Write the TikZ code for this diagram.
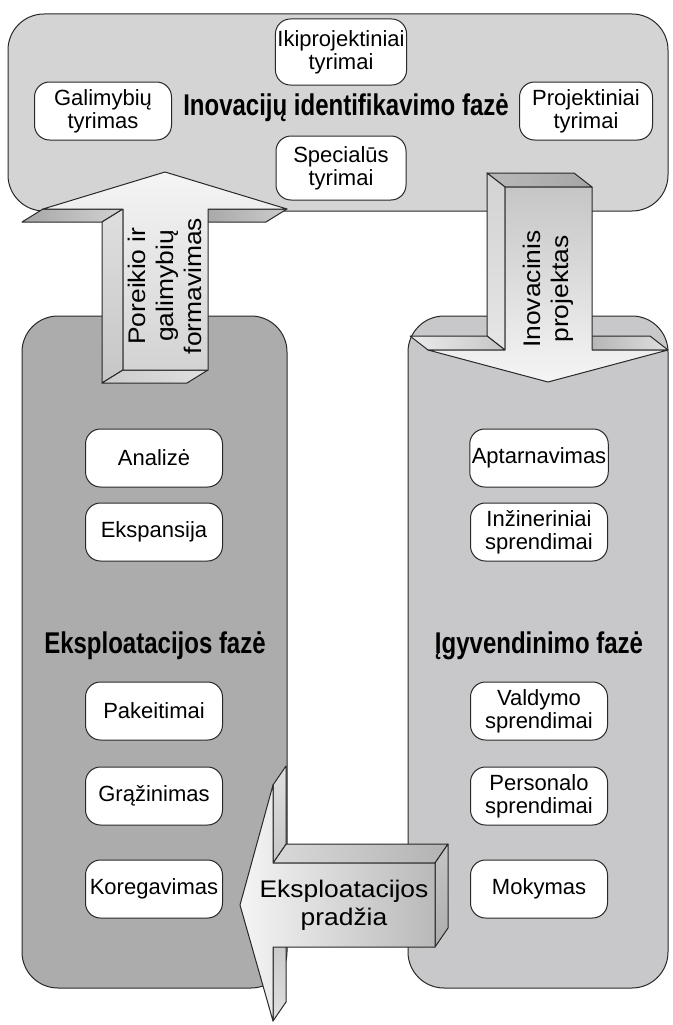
\documentclass[tikz,border=0pt]{standalone}
\usepackage{fontspec}
\setmainfont{Liberation Sans}
\newfontfamily\narrowfont[FakeStretch=0.8]{Liberation Sans}
\newfontfamily\widefont[FakeStretch=1.1]{Liberation Sans}
\definecolor{toppanel}{RGB}{212,212,212}
\definecolor{leftpanel}{RGB}{172,172,172}
\definecolor{rightpanel}{RGB}{200,200,202}
\definecolor{outline}{RGB}{40,40,40}
\begin{document}
\begin{tikzpicture}[x=1pt,y=-1pt,
  panel/.style={draw=outline, line width=1pt, rounded corners=36pt},
  item/.style={draw=outline, line width=1pt, fill=white, rounded corners=15pt,
    minimum width=137pt, minimum height=58pt, align=center, inner sep=2pt,
    font=\fontsize{22}{23}\selectfont},
  phase/.style={font=\narrowfont\fontsize{30}{32}\selectfont\bfseries},
  face/.style={draw=outline, line width=1pt, line join=round},
  arrowtext/.style={align=center, font=\widefont\fontsize{24}{28}\selectfont},
]
\useasboundingbox (0,0) rectangle (672,1025);

% phase panels
\draw[panel, fill=toppanel] (8,14) rectangle (668,211);
\draw[panel, fill=leftpanel] (22,316) rectangle (287,988);
\draw[panel, fill=rightpanel] (408,316) rectangle (668,988);

% identification phase
\node[phase] (ident) at (346,108) {Inovacijų identifikavimo fazė};
\node[item, minimum width=130pt, minimum height=66pt] (iki) at (341,52) {Ikiprojektiniai\\tyrimai};
\node[item] (galim) at (103,111) {Galimybių\\tyrimas};
\node[item, minimum width=133pt] (proj) at (586,111) {Projektiniai\\tyrimai};
\node[item, minimum width=130pt, minimum height=64pt] (spec) at (341,168) {Specialūs\\tyrimai};

% exploitation phase
\node[phase] (eksp) at (155,646) {Eksploatacijos fazė};
\node[item] (anal) at (154,458) {Analizė};
\node[item] (expa) at (154,532) {Ekspansija};
\node[item] (pake) at (154,711) {Pakeitimai};
\node[item] (graz) at (154,796) {Grąžinimas};
\node[item] (kore) at (154,889) {Koregavimas};

% implementation phase
\node[phase] (igyv) at (539,646) {Įgyvendinimo fazė};
\node[item] (aptar) at (539,458) {Aptarnavimas};
\node[item] (inz) at (539,532) {Inžineriniai\\sprendimai};
\node[item] (vald) at (539,711) {Valdymo\\sprendimai};
\node[item] (pers) at (539,796) {Personalo\\sprendimai};
\node[item] (moky) at (539,889) {Mokymas};

% block arrow up: need and possibility forming
\shadedraw[face, left color=gray!70, right color=gray!35] (43,209) -- (123,209) -- (102,222) -- (22,222) -- cycle;
\shadedraw[face, left color=gray!75, right color=gray!40] (208,209) -- (287,209) -- (266,222) -- (187,222) -- cycle;
\shadedraw[face, top color=gray!25, bottom color=gray!45] (123,209) -- (123,370) -- (102,383) -- (102,222) -- cycle;
\shadedraw[face, left color=gray!40, right color=gray!25] (123,370) -- (208,370) -- (187,383) -- (102,383) -- cycle;
\shadedraw[face, top color=gray!8, bottom color=gray!35]
  (123,370) -- (123,209) -- (43,209) -- (165,172) -- (287,209) -- (208,209) -- (208,370) -- cycle;
\node[arrowtext, rotate=90] (needs) at (165,286) {Poreikio ir\\galimybių\\formavimas};

% block arrow down: innovation project
\shadedraw[face, left color=gray!55, right color=gray!70] (505,187) -- (592,187) -- (574,173) -- (487,173) -- cycle;
\shadedraw[face, top color=gray!35, bottom color=gray!20] (505,187) -- (505,350) -- (487,336) -- (487,173) -- cycle;
\shadedraw[face, left color=gray!15, right color=gray!45] (428,350) -- (505,350) -- (487,336) -- (410,336) -- cycle;
\shadedraw[face, left color=gray!65, right color=gray!25] (592,350) -- (668,350) -- (650,336) -- (574,336) -- cycle;
\shadedraw[face, top color=gray!45, bottom color=gray!8]
  (505,187) -- (592,187) -- (592,350) -- (668,350) -- (548,382) -- (428,350) -- (505,350) -- cycle;
\node[arrowtext, rotate=90] (project) at (548,289) {Inovacinis\\projektas};

% block arrow left: start of exploitation
\shadedraw[face, left color=gray!30, right color=gray!60] (273,863) -- (435,863) -- (448,844) -- (286,844) -- cycle;
\shadedraw[face, top color=gray!45, bottom color=gray!65] (435,863) -- (448,844) -- (448,928) -- (435,947) -- cycle;
\shadedraw[face, top color=gray!25, bottom color=gray!45] (273,785) -- (273,863) -- (286,844) -- (286,766) -- cycle;
\shadedraw[face, top color=gray!45, bottom color=gray!25] (273,947) -- (273,1021) -- (286,1002) -- (286,928) -- cycle;
\shadedraw[face, left color=gray!8, right color=gray!55]
  (435,863) -- (273,863) -- (273,785) -- (240,905) -- (273,1021) -- (273,947) -- (435,947) -- cycle;
\node[arrowtext] (start) at (344,905) {Eksploatacijos\\pradžia};
\end{tikzpicture}
\end{document}
